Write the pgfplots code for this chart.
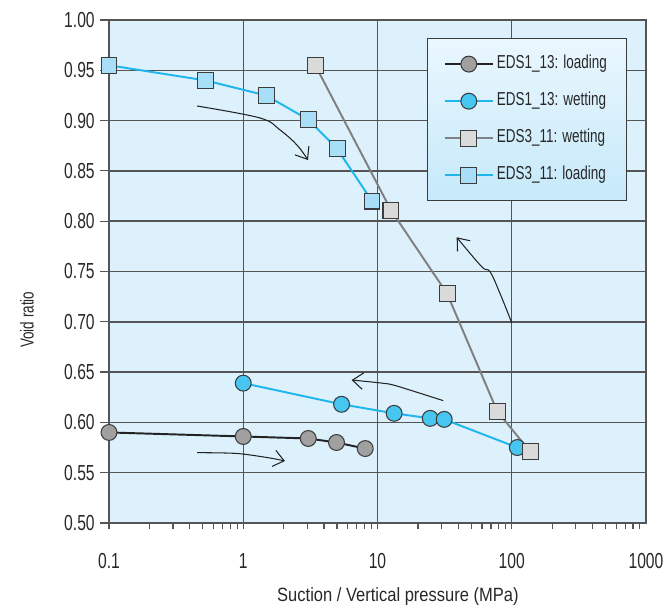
\documentclass[border=0pt]{standalone}
\usepackage{fontspec}
\setmainfont{Liberation Sans}[FakeStretch=0.72]
\newfontfamily\xlabfont{Liberation Sans}[FakeStretch=0.86]
\usepackage{pgfplots}
\pgfplotsset{compat=1.18}
\usetikzlibrary{arrows.meta}

\definecolor{bgblue}{RGB}{220,241,252}
\definecolor{gridc}{RGB}{85,85,85}
\definecolor{textc}{RGB}{40,40,40}
\definecolor{edgec}{RGB}{60,60,60}
\definecolor{blackl}{RGB}{35,35,35}
\definecolor{cyanl}{RGB}{30,182,236}
\definecolor{cyanfill}{RGB}{70,198,240}
\definecolor{grayl}{RGB}{128,128,128}
\definecolor{grayfill}{RGB}{160,160,160}
\definecolor{sqgray}{RGB}{218,218,218}
\definecolor{sqblue}{RGB}{168,222,247}
\definecolor{legtop}{RGB}{234,247,254}
\definecolor{legbot}{RGB}{198,233,250}

\begin{document}
\begin{tikzpicture}
\begin{axis}[
  name=ax,
  scale only axis,
  width=358pt, height=335.33pt,
  xmode=log,
  xmin=0.1, xmax=1000, ymin=0.5, ymax=1.0,
  xtick={0.1,1,10,100,1000},
  xticklabels={0.1,1,10,100,1000},
  ytick={0.5,0.55,0.6,0.65,0.7,0.75,0.8,0.85,0.9,0.95,1.0},
  yticklabels={0.50,0.55,0.60,0.65,0.70,0.75,0.80,0.85,0.90,0.95,1.00},
  grid=major,
  major grid style={draw=gridc, line width=1pt},
  axis line style={draw=gridc, line width=1pt},
  major tick length=12pt, minor tick length=4pt,
  ytick align=center, xtick align=outside,
  xtick pos=bottom, ytick pos=left,
  tick style={draw=gridc, line width=0.8pt},
  every major x tick/.append style={draw=none},
  axis background/.style={fill=bgblue},
  tick label style={font=\fontsize{14.5}{16}\selectfont, text=textc},
  xticklabel style={yshift=-4.5pt},
  xlabel={Suction / Vertical pressure (MPa)},
  ylabel={Void ratio},
  xlabel style={font=\xlabfont\fontsize{12.8}{14}\selectfont, text=textc,
    at={(axis description cs:0.538,-0.147)}, anchor=center},
  ylabel style={font=\fontsize{12.5}{14}\selectfont, text=textc,
    at={(axis description cs:-0.153,0.404)}, anchor=center},
  clip=false,
  legend cell align=left,
  legend image code/.code={\draw[mark repeat=2,mark phase=2] plot coordinates {(0pt,0pt)(16pt,0pt)(32pt,0pt)};},
  legend style={at={(0.9646,0.9642)}, anchor=north east,
    draw=edgec, line width=0.8pt, top color=legtop, bottom color=legbot,
    font=\fontsize{12.5}{14}\selectfont, text=textc,
    row sep=8.7pt, inner xsep=11pt, inner ysep=9pt,
    nodes={inner sep=2pt, text height=9pt, text depth=3pt}},
]

% EDS1_13 loading
\addplot[color=blackl, line width=1.3pt, mark=*, mark size=5.3pt,
  mark options={fill=grayfill, draw=edgec, line width=0.7pt}]
  coordinates {(0.1,0.590) (1,0.586) (3.05,0.584) (4.95,0.580) (8.1,0.574)};

% EDS1_13 wetting
\addplot[color=cyanl, line width=1.3pt, mark=*, mark size=5.3pt,
  mark options={fill=cyanfill, draw=edgec, line width=0.7pt}]
  coordinates {(1,0.639) (5.4,0.618) (13.3,0.609) (24.7,0.604) (31.4,0.603) (110,0.575)};

% EDS3_11 wetting
\addplot[color=grayl, line width=1.3pt, mark=square*, mark size=5.3pt,
  mark options={fill=sqgray, draw=edgec, line width=0.7pt}]
  coordinates {(3.44,0.955) (12.6,0.811) (33,0.728) (78,0.611) (137,0.571)};

% EDS3_11 loading
\addplot[color=cyanl, line width=1.3pt, mark=square*, mark size=5.3pt,
  mark options={fill=sqblue, draw=edgec, line width=0.7pt}]
  coordinates {(0.1,0.955) (0.52,0.940) (1.48,0.925) (3.05,0.901) (5.0,0.872) (9.1,0.820)};

\legend{EDS1\_13: loading, EDS1\_13: wetting, EDS3\_11: wetting, EDS3\_11: loading}

% hand-drawn style arrows
\draw[blackl, line width=0.7pt, -{Straight Barb[length=7pt,width=11pt]}]
  plot[smooth, tension=0.6] coordinates {(axis cs:0.453,0.9145) (axis cs:1.333,0.9026) (axis cs:1.878,0.8907) (axis cs:2.514,0.8757) (axis cs:3.035,0.8608)};
\draw[blackl, line width=0.7pt, -{Straight Barb[length=7pt,width=11pt]}]
  plot[smooth, tension=0.5] coordinates {(axis cs:0.453,0.5699) (axis cs:0.898,0.5691) (axis cs:1.582,0.5646) (axis cs:2.046,0.5616)};
\draw[blackl, line width=0.7pt, -{Straight Barb[length=7pt,width=11pt]}]
  plot[smooth, tension=0.5] coordinates {(axis cs:30.9,0.6216) (axis cs:13.9,0.6362) (axis cs:10.99,0.6389) (axis cs:6.42,0.6421)};
\draw[blackl, line width=0.7pt, -{Straight Barb[length=7pt,width=11pt]}]
  plot[smooth, tension=0.6] coordinates {(axis cs:99.9,0.6991) (axis cs:81.7,0.7283) (axis cs:68.9,0.7498) (axis cs:59.7,0.7548) (axis cs:38.9,0.784)};
\end{axis}
\pgfresetboundingbox
\path ([shift={(-72.67pt,-60.67pt)}]ax.south west) rectangle ([shift={(12.67pt,13.33pt)}]ax.north east);
\end{tikzpicture}
\end{document}
